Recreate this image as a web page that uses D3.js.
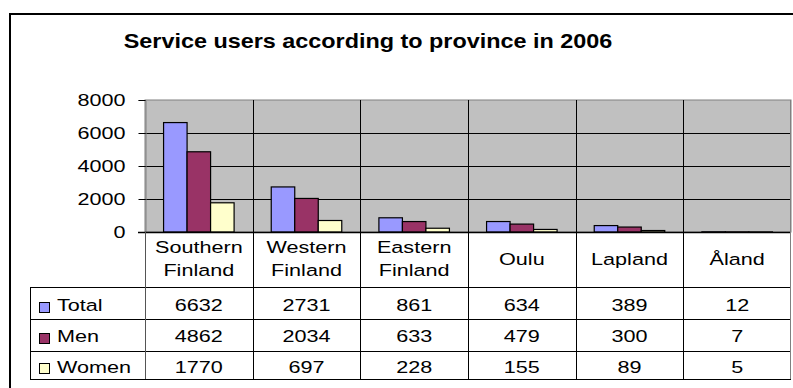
<!DOCTYPE html>
<html>
<head>
<meta charset="utf-8">
<script src="https://cdn.jsdelivr.net/npm/d3@7"></script>
<style>
  html, body { margin: 0; padding: 0; background: #fff; }
  svg { display: block; font-family: "Liberation Sans", Arial, sans-serif; }
</style>
</head>
<body>
<svg id="chart" width="793" height="388"></svg>
<script>
// Provinces (header labels may wrap onto two lines)
const provinces = ["Southern Finland", "Western Finland", "Eastern Finland", "Oulu", "Lapland", "Åland"];
const provinceLines = [["Southern", "Finland"], ["Western", "Finland"], ["Eastern", "Finland"], ["Oulu"], ["Lapland"], ["Åland"]];
const seriesNames = ["Total", "Men", "Women"];
const totalValues = [6632, 2731, 861, 634, 389, 12];
const menValues = [4862, 2034, 633, 479, 300, 7];
const womenValues = [1770, 697, 228, 155, 89, 5];
const yTicks = [0, 2000, 4000, 6000, 8000];
const seriesColors = ["#9999FF", "#993366", "#FFFFCC"];
const titleText = "Service users according to province in 2006";

const series = [totalValues, menValues, womenValues];

// the chart's typeface is set wide: glyphs are stretched horizontally
const BODY_SIZE = 16.5, BODY_SX = 1.31;
const TITLE_SIZE = 20, TITLE_SX = 1.17;

const svg = d3.select("#chart");

function addText(parent, x, y, str, opts = {}) {
  const sx = opts.sx || BODY_SX;
  return parent.append("text")
    .attr("transform", `translate(${x},${y}) scale(${sx},1)`)
    .attr("text-anchor", opts.anchor || "middle")
    .attr("font-size", opts.size || BODY_SIZE)
    .attr("font-weight", opts.weight || "normal")
    .attr("fill", "#000")
    .text(str);
}

// outer chart frame
svg.append("rect")
  .attr("x", 10).attr("y", 14).attr("width", 800).attr("height", 400)
  .attr("fill", "#fff").attr("stroke", "#000").attr("stroke-width", 2);

// title
addText(svg, 368, 48, titleText, { size: TITLE_SIZE, sx: TITLE_SX, weight: "bold" });

const plot = { left: 145, right: 791, top: 100, bottom: 232 };

const x = d3.scaleBand().domain(provinces).range([plot.left, plot.right]).paddingInner(0).paddingOuter(0);
const xs = d3.scaleBand().domain(seriesNames).range([0, x.bandwidth()]).paddingInner(0).paddingOuter(0.79);
const y = d3.scaleLinear().domain([0, 8000]).range([plot.bottom, plot.top]);

// plot background
svg.append("rect")
  .attr("x", plot.left).attr("y", plot.top)
  .attr("width", plot.right - plot.left).attr("height", plot.bottom - plot.top)
  .attr("fill", "#C0C0C0").attr("stroke", "#808080").attr("stroke-width", 1);

// horizontal gridlines
svg.append("g").selectAll("line").data(yTicks.filter(d => d > 0 && d < 8000)).join("line")
  .attr("x1", plot.left).attr("x2", plot.right)
  .attr("y1", d => Math.round(y(d)) + 0.5).attr("y2", d => Math.round(y(d)) + 0.5)
  .attr("stroke", "#000").attr("stroke-width", 1);

// vertical category separators (through plot and table)
svg.append("g").selectAll("line").data(provinces.slice(1)).join("line")
  .attr("x1", d => Math.round(x(d)) + 0.5).attr("x2", d => Math.round(x(d)) + 0.5)
  .attr("y1", plot.top).attr("y2", 379)
  .attr("stroke", "#000").attr("stroke-width", 1);

// y axis
const tickPad = 13;
const yAxis = d3.axisLeft(y).tickValues(yTicks).tickSize(7).tickPadding(tickPad).tickFormat(d3.format("d"));
const gy = svg.append("g")
  .attr("transform", `translate(${plot.left + 0.5},0)`)
  .call(yAxis);
gy.select(".domain").attr("stroke", "#808080");
gy.selectAll(".tick line").attr("stroke", "#000");
gy.selectAll(".tick text")
  .attr("font-size", BODY_SIZE).attr("fill", "#000")
  .attr("font-family", "Liberation Sans, Arial, sans-serif")
  .attr("x", -(7 + tickPad) / BODY_SX)
  .attr("transform", `scale(${BODY_SX},1)`);

// bars
series.forEach((vals, si) => {
  svg.append("g").selectAll("rect").data(vals).join("rect")
    .attr("x", (d, i) => x(provinces[i]) + xs(seriesNames[si]))
    .attr("y", d => y(d))
    .attr("width", xs.bandwidth())
    .attr("height", d => plot.bottom - y(d))
    .attr("fill", seriesColors[si])
    .attr("stroke", "#000").attr("stroke-width", 1.2);
});

// baseline
svg.append("line")
  .attr("x1", 138).attr("x2", plot.right).attr("y1", plot.bottom + 0.5).attr("y2", plot.bottom + 0.5)
  .attr("stroke", "#000").attr("stroke-width", 1.5);

// data table
const table = { left: 30, rowBounds: [287, 319, 351, 379] };

svg.append("g").selectAll("line").data(table.rowBounds).join("line")
  .attr("x1", table.left).attr("x2", plot.right)
  .attr("y1", d => d + 0.5).attr("y2", d => d + 0.5)
  .attr("stroke", "#000").attr("stroke-width", 1);

svg.append("line").attr("x1", table.left + 0.5).attr("x2", table.left + 0.5)
  .attr("y1", 287).attr("y2", 379).attr("stroke", "#000");
svg.append("line").attr("x1", plot.left + 0.5).attr("x2", plot.left + 0.5)
  .attr("y1", plot.bottom).attr("y2", 379).attr("stroke", "#555");
svg.append("line").attr("x1", plot.right - 0.5).attr("x2", plot.right - 0.5)
  .attr("y1", plot.top).attr("y2", 379).attr("stroke", "#808080");

// header labels
provinceLines.forEach((lines, i) => {
  const cx = x(provinces[i]) + x.bandwidth() / 2;
  if (lines.length === 2) {
    addText(svg, cx, 253, lines[0]);
    addText(svg, cx, 276, lines[1]);
  } else {
    addText(svg, cx, 265, lines[0]);
  }
});

// rows: legend key, series name, values
const rowBaselines = [311, 342, 373];
const keyTops = [302, 333, 363];
series.forEach((vals, si) => {
  svg.append("rect")
    .attr("x", 39.5).attr("y", keyTops[si] + 0.5).attr("width", 10).attr("height", 10)
    .attr("fill", seriesColors[si]).attr("stroke", "#000").attr("stroke-width", 1);
  addText(svg, 57, rowBaselines[si], seriesNames[si], { anchor: "start" });
  const g = svg.append("g");
  vals.forEach((v, i) => {
    addText(g, x(provinces[i]) + x.bandwidth() / 2, rowBaselines[si], v);
  });
});
</script>
</body>
</html>
